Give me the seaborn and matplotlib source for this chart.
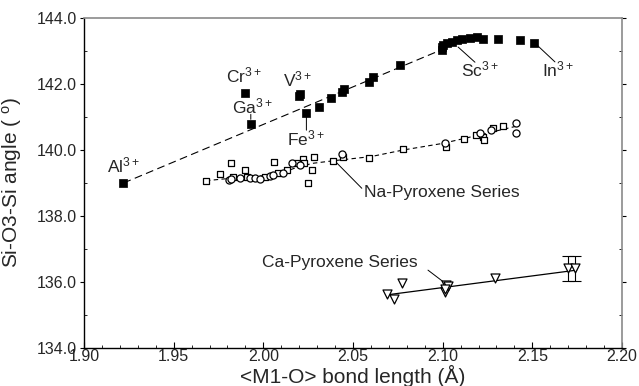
import numpy as np
import pandas as pd
import matplotlib
matplotlib.use("Agg")
import matplotlib.pyplot as plt
from matplotlib.ticker import MultipleLocator, FormatStrFormatter
import seaborn as sns

# ---------------- data ----------------
fe_x = [1.922, 1.990, 1.993, 2.0199, 2.0205, 2.024, 2.031, 2.038, 2.044, 2.045,
        2.059, 2.061, 2.076, 2.0995, 2.0995, 2.1004, 2.1023, 2.105, 2.1078, 2.1106,
        2.1152, 2.119, 2.1227, 2.131, 2.143, 2.151]
fe_y = [139.00, 141.74, 140.78, 141.65, 141.69, 141.13, 141.31, 141.57, 141.77, 141.84,
        142.07, 142.20, 142.58, 143.03, 143.12, 143.18, 143.23, 143.28, 143.33, 143.35,
        143.38, 143.41, 143.36, 143.35, 143.33, 143.25]
fe_fit_x = [1.922, 2.0995, 2.108, 2.119]
fe_fit_y = [139.00, 143.04, 143.30, 143.40]

na_sq_x = [1.968, 1.976, 1.982, 1.983, 1.990, 1.9907, 2.0009, 2.0084, 2.013, 2.0186,
           2.0219, 2.0227, 2.0061, 2.025, 2.027, 2.028, 2.039, 2.0446, 2.059, 2.078,
           2.102, 2.112, 2.1186, 2.1227, 2.123, 2.1283, 2.1338]
na_sq_y = [139.06, 139.27, 139.60, 139.19, 139.39, 139.17, 139.19, 139.29, 139.39, 139.62,
           139.72, 139.60, 139.65, 139.01, 139.39, 139.80, 139.68, 139.78, 139.76, 140.02,
           140.10, 140.32, 140.45, 140.40, 140.30, 140.66, 140.73]
na_ci_x = [1.981, 1.982, 1.987, 1.9926, 1.9954, 1.9981, 2.0037, 2.0056, 2.0107, 2.0158,
           2.0204, 2.0437, 2.1013, 2.121, 2.1268, 2.141, 2.141]
na_ci_y = [139.09, 139.12, 139.14, 139.14, 139.14, 139.12, 139.21, 139.24, 139.31, 139.60,
           139.55, 139.88, 140.22, 140.52, 140.61, 140.83, 140.50]
na_fit_x = [1.968, 1.985, 2.000, 2.010, 2.020, 2.028, 2.040, 2.060, 2.078, 2.100, 2.120, 2.141]
na_fit_y = [139.07, 139.16, 139.22, 139.30, 139.50, 139.60, 139.68, 139.80, 140.00, 140.20, 140.45, 140.72]

ca_x = [2.069, 2.073, 2.0772, 2.1013, 2.102, 2.103, 2.1013, 2.129, 2.170, 2.174]
ca_y = [135.65, 135.50, 135.98, 135.70, 135.91, 135.88, 135.78, 136.11, 136.41, 136.41]
ca_err_x = [2.170, 2.174]
ca_err_y = [136.41, 136.41]
ca_err = [0.38, 0.38]
ca_fit_x = [2.0688, 2.1747]
ca_fit_y = [135.61, 136.36]

x_ticks = [1.90, 1.95, 2.00, 2.05, 2.10, 2.15, 2.20]
y_ticks = [134.0, 136.0, 138.0, 140.0, 142.0, 144.0]

# ---------------- style ----------------
sns.set_theme(style="ticks")
plt.rcParams["font.family"] = ["Liberation Sans", "DejaVu Sans"]
plt.rcParams["mathtext.fontset"] = "custom"
plt.rcParams["mathtext.rm"] = "Liberation Sans"
plt.rcParams["mathtext.default"] = "regular"

fig = plt.figure(figsize=(6.39, 3.86), dpi=100)
ax = fig.add_axes([0.1315, 0.0984, 0.8419, 0.855])

# trend lines
sns.lineplot(x=fe_fit_x, y=fe_fit_y, ax=ax, color="black", lw=0.8,
             linestyle=(0, (7, 4)), sort=False, estimator=None)
sns.lineplot(x=na_fit_x, y=na_fit_y, ax=ax, color="black", lw=0.8,
             linestyle=(0, (4, 3)), sort=False, estimator=None)
sns.lineplot(x=ca_fit_x, y=ca_fit_y, ax=ax, color="black", lw=0.9,
             sort=False, estimator=None)

# markers
sns.scatterplot(x=fe_x, y=fe_y, ax=ax, marker="s", s=30, color="black",
                edgecolor="black", linewidth=0.5, zorder=4)
sns.scatterplot(x=na_sq_x, y=na_sq_y, ax=ax, marker="s", s=24, facecolor="white",
                edgecolor="black", linewidth=0.9, zorder=4)
sns.scatterplot(x=na_ci_x, y=na_ci_y, ax=ax, marker="o", s=26, facecolor="white",
                edgecolor="black", linewidth=0.9, zorder=4)
ax.errorbar(ca_err_x, ca_err_y, yerr=ca_err, fmt="none", ecolor="black",
            elinewidth=0.8, capsize=4, capthick=0.8, zorder=3)
sns.scatterplot(x=ca_x, y=ca_y, ax=ax, marker="v", s=42, facecolor="white",
                edgecolor="black", linewidth=0.9, zorder=4)

# labels and leader lines
fs = 12.5
lead = dict(arrowstyle="-", color="black", lw=0.7, shrinkA=0, shrinkB=0)
ax.text(1.922, 139.53, "Al$^{3+}$", ha="center", va="center", fontsize=fs)
ax.text(1.989, 142.27, "Cr$^{3+}$", ha="center", va="center", fontsize=fs)
ax.text(2.019, 142.13, "V$^{3+}$", ha="center", va="center", fontsize=fs)
ax.text(1.994, 141.32, "Ga$^{3+}$", ha="center", va="center", fontsize=fs)
ax.annotate("", xy=(1.993, 140.93), xytext=(1.993, 141.08), arrowprops=lead)
ax.text(2.024, 140.36, "Fe$^{3+}$", ha="center", va="center", fontsize=fs)
ax.annotate("", xy=(2.024, 141.05), xytext=(2.024, 140.60), arrowprops=lead)
ax.text(2.121, 142.45, "Sc$^{3+}$", ha="center", va="center", fontsize=fs)
ax.annotate("", xy=(2.1086, 143.12), xytext=(2.118, 142.66), arrowprops=lead)
ax.text(2.1645, 142.45, "In$^{3+}$", ha="center", va="center", fontsize=fs)
ax.annotate("", xy=(2.1526, 143.18), xytext=(2.1626, 142.67), arrowprops=lead)
ax.text(2.056, 138.70, "Na-Pyroxene Series", ha="left", va="center", fontsize=12.5)
ax.annotate("", xy=(2.040, 139.66), xytext=(2.0549, 138.84), arrowprops=lead)
ax.text(1.999, 136.58, "Ca-Pyroxene Series", ha="left", va="center", fontsize=12.5)
ax.annotate("", xy=(2.1022, 135.93), xytext=(2.0918, 136.36), arrowprops=lead)

# axes
ax.set_xlim(1.90, 2.20)
ax.set_ylim(134.0, 144.0)
ax.set_xticks(x_ticks)
ax.set_yticks(y_ticks)
ax.xaxis.set_major_formatter(FormatStrFormatter("%.2f"))
ax.yaxis.set_major_formatter(FormatStrFormatter("%.1f"))
ax.xaxis.set_minor_locator(MultipleLocator(0.01))
ax.yaxis.set_minor_locator(MultipleLocator(1.0))
ax.tick_params(axis="both", which="major", labelsize=11.5, direction="in", length=4,
               width=0.8, color="black", pad=1.0)
ax.tick_params(axis="y", which="major", direction="out", length=3, pad=2)
ax.tick_params(axis="both", which="minor", direction="in", length=2.5, width=0.7)
ax.tick_params(axis="y", which="both", right=True)
for side in ["left", "bottom"]:
    ax.spines[side].set_color("black")
    ax.spines[side].set_linewidth(1.0)
for side in ["top", "right"]:
    ax.spines[side].set_visible(True)
    ax.spines[side].set_color("#8a8a8a")
    ax.spines[side].set_linewidth(1.2)

ax.set_xlabel("<M1-O> bond length (Å)", fontsize=15)
ax.xaxis.set_label_coords(0.5, -0.052)
ax.set_ylabel("Si-O3-Si angle ( $^{o}$)", fontsize=15, labelpad=9)
ax.grid(False)

fig.savefig("out.png", dpi=100)
